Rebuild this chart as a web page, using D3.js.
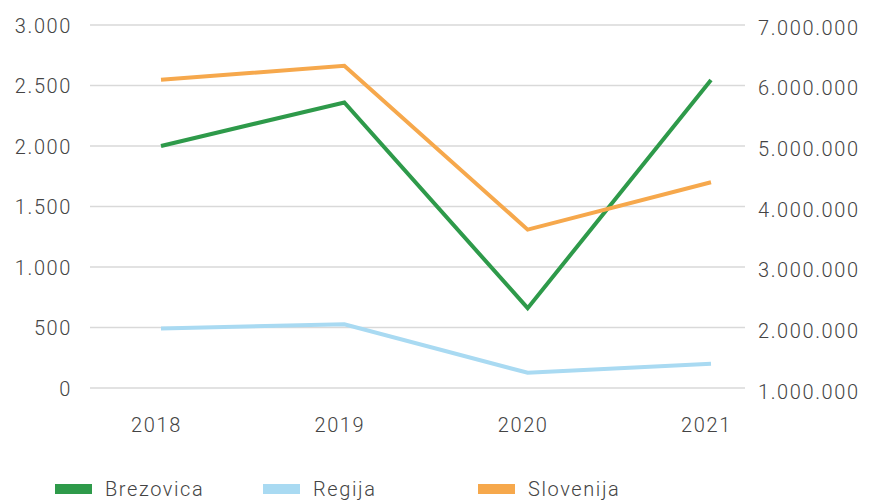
<!DOCTYPE html>
<html><head><meta charset="utf-8">
<script src="https://cdn.jsdelivr.net/npm/d3@7"></script>
<style>
body{margin:0;background:#fff;}
text{font-family:Roboto,"Liberation Sans",sans-serif;font-weight:300;fill:#444;letter-spacing:1.6px;}
</style></head>
<body><svg id="c" width="876" height="500"></svg>
<script>
const years = ["2018","2019","2020","2021"];
const brezovica = [2000, 2360, 660, 2545];          // left axis
const regija = [2030000, 2100000, 1300000, 1450000]; // right axis
const slovenija = [6130000, 6360000, 3660000, 4440000]; // right axis
const leftTicks = [0, 500, 1000, 1500, 2000, 2500, 3000];
const rightTicks = [1000000, 2000000, 3000000, 4000000, 5000000, 6000000, 7000000];
const seriesNames = ["Brezovica", "Regija", "Slovenija"];
const colors = ["#2e9a4a", "#a9daf2", "#f6a84c"];

const svg = d3.select("#c");
const x = d3.scalePoint().domain(years).range([161, 711]);
const yL = d3.scaleLinear().domain([0, 3000]).range([388, 25]);
const yR = d3.scaleLinear().domain([1000000, 7000000]).range([391, 27]);
const fmt = v => d3.format(",")(v).replace(/,/g, ".");

// gridlines
svg.append("g").selectAll("line").data(leftTicks).join("line")
  .attr("x1", 90).attr("x2", 745)
  .attr("y1", d => yL(d)).attr("y2", d => yL(d))
  .attr("stroke", "#d9d9d9").attr("stroke-width", 1.5);

// left axis
const gL = svg.append("g").attr("transform", "translate(72,0)")
  .call(d3.axisLeft(yL).tickValues(leftTicks).tickFormat(fmt).tickSize(0).tickPadding(0));
gL.select(".domain").remove();
gL.selectAll("text").attr("font-size", 20).attr("dy", "0.35em");

// right axis
const gR = svg.append("g").attr("transform", "translate(758,0)")
  .call(d3.axisRight(yR).tickValues(rightTicks).tickFormat(fmt).tickSize(0).tickPadding(0));
gR.select(".domain").remove();
gR.selectAll("text").attr("font-size", 20).attr("dy", "0.35em");

// x axis
const gX = svg.append("g").attr("transform", "translate(-5,425)")
  .call(d3.axisBottom(x).tickSize(0).tickPadding(0));
gX.select(".domain").remove();
gX.selectAll("text").attr("font-size", 20).attr("dy", "0.35em");

// lines
const data = [
  {vals: brezovica, y: yL},
  {vals: regija, y: yR},
  {vals: slovenija, y: yR}
];
// draw order: regija, slovenija, brezovica? keep orange over green near 2021 crossing
[1, 0, 2].forEach(i => {
  const s = data[i];
  const line = d3.line().x((d, j) => x(years[j])).y(d => s.y(d));
  svg.append("path").datum(s.vals).attr("d", line)
    .attr("fill", "none").attr("stroke", colors[i]).attr("stroke-width", 4)
    .attr("stroke-linejoin", "miter");
});

// legend
const legX = [55, 263, 478];
const lg = svg.append("g");
seriesNames.forEach((n, i) => {
  lg.append("rect").attr("x", legX[i]).attr("y", 484).attr("width", 37).attr("height", 10).attr("fill", colors[i]);
  lg.append("text").attr("x", legX[i] + 50).attr("y", 489).attr("dy", "0.35em").attr("font-size", 20).text(n);
});
</script>
</body></html>
